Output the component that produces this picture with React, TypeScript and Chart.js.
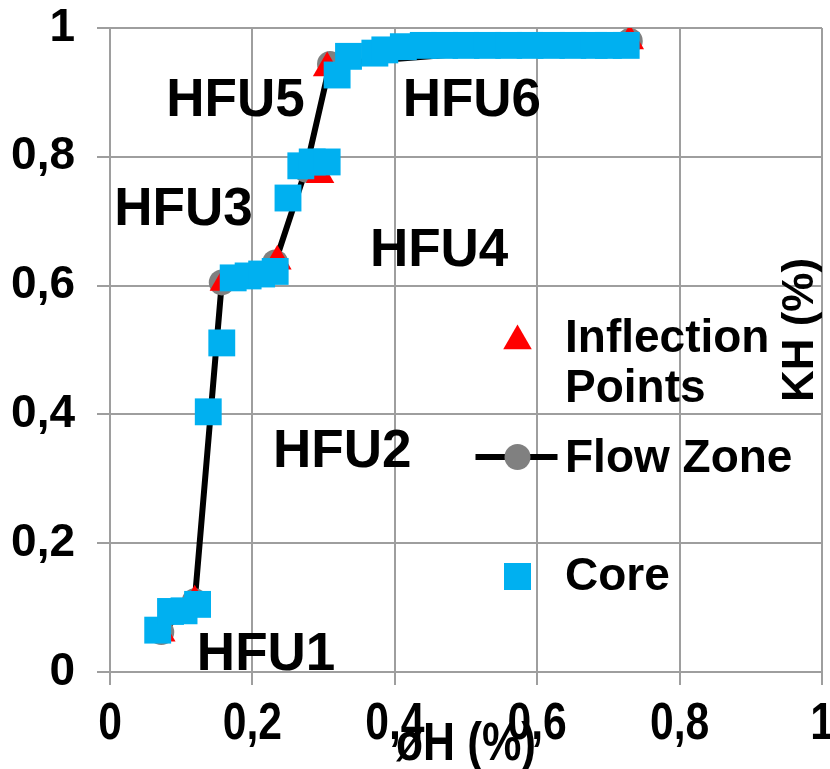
import React, { useEffect, useRef } from 'react';
import { Chart, registerables } from 'chart.js';

Chart.register(...registerables);

// ---- data ----
const coreX = [0.067, 0.085, 0.104, 0.123, 0.138, 0.157, 0.173, 0.194, 0.213, 0.232, 0.25, 0.268, 0.284, 0.305, 0.319, 0.335, 0.372, 0.386, 0.412, 0.44, 0.47, 0.5, 0.53, 0.56, 0.59, 0.62, 0.65, 0.68, 0.7, 0.725];
const coreY = [0.065, 0.094, 0.095, 0.105, 0.404, 0.511, 0.612, 0.615, 0.618, 0.622, 0.736, 0.786, 0.792, 0.792, 0.927, 0.956, 0.961, 0.966, 0.971, 0.973, 0.973, 0.973, 0.973, 0.973, 0.973, 0.973, 0.973, 0.973, 0.973, 0.973];

const inflX = [0.072, 0.119, 0.16, 0.235, 0.295, 0.305, 0.73];
const inflY = [0.06, 0.11, 0.605, 0.638, 0.772, 0.938, 0.98];

const flowX = [0.072, 0.119, 0.157, 0.232, 0.275, 0.309, 0.73];
const flowY = [0.062, 0.11, 0.605, 0.636, 0.78, 0.944, 0.98];

const xTickLabels = ['0', '0,2', '0,4', '0,6', '0,8', '1'];
const yTickLabels = ['0', '0,2', '0,4', '0,6', '0,8', '1'];

const hfuLabels = ['HFU1', 'HFU2', 'HFU3', 'HFU4', 'HFU5', 'HFU6'];
const hfuX = [0.122, 0.229, 0.006, 0.365, 0.079, 0.411];
const hfuY = [0.003, 0.318, 0.694, 0.63, 0.863, 0.863];

const legendNames = [['Inflection', 'Points'], ['Flow Zone'], ['Core']];
const xTitle = 'øH (%)';
const yTitle = 'KH (%)';

const CORE_COLOR = '#00B0F0';
const INFL_COLOR = '#FF0000';
const FLOW_POINT = '#808080';
const GRID = '#9e9e9e';
const BOLD = '"Liberation Sans", Arial, sans-serif';
const NARROW_SCALE = 0.82;

const toPts = (xs: number[], ys: number[]) => xs.map((x, i) => ({ x, y: ys[i] }));

const overlayPlugin = {
  id: 'overlay',
  afterDraw(chart: any) {
    const { ctx, chartArea, scales } = chart;
    const xs = scales.x;
    ctx.save();
    ctx.fillStyle = '#000';

    // x tick labels (condensed face) placed on the library's ticks
    ctx.font = `bold 52px ${BOLD}`;
    ctx.textAlign = 'center';
    ctx.textBaseline = 'alphabetic';
    xs.ticks.forEach((t: any, i: number) => {
      const px = xs.getPixelForValue(t.value);
      ctx.save();
      ctx.translate(px, xs.top + 67);
      ctx.scale(NARROW_SCALE, 1);
      ctx.fillText(xTickLabels[i], 0, 0);
      ctx.restore();
    });
    // x title
    ctx.font = `bold 54px ${BOLD}`;
    ctx.save();
    ctx.translate((chartArea.left + chartArea.right) / 2, xs.top + 88);
    ctx.scale(NARROW_SCALE, 1);
    ctx.fillText(xTitle, 0, 0);
    ctx.restore();

    // HFU labels
    ctx.font = `bold 53px ${BOLD}`;
    ctx.textAlign = 'left';
    hfuLabels.forEach((t, i) => {
      ctx.fillText(t, xs.getPixelForValue(hfuX[i]), scales.y.getPixelForValue(hfuY[i]));
    });

    // legend
    const mx = chartArea.right - 304.5;
    const tx = chartArea.right - 257;
    const top = chartArea.top;
    ctx.font = `bold 46px ${BOLD}`;
    ctx.fillStyle = INFL_COLOR;
    const r = 16.5;
    const cy1 = top + 313;
    ctx.beginPath();
    ctx.moveTo(mx, cy1 - r);
    ctx.lineTo(mx + r * Math.sin((2 * Math.PI) / 3), cy1 - r * Math.cos((2 * Math.PI) / 3));
    ctx.lineTo(mx + r * Math.sin((4 * Math.PI) / 3), cy1 - r * Math.cos((4 * Math.PI) / 3));
    ctx.closePath();
    ctx.fill();
    ctx.fillStyle = '#000';
    ctx.fillText(legendNames[0][0], tx, top + 324);
    ctx.fillText(legendNames[0][1], tx, top + 374);
    const cy2 = top + 429;
    ctx.strokeStyle = '#000';
    ctx.lineWidth = 6;
    ctx.beginPath();
    ctx.moveTo(mx - 42, cy2);
    ctx.lineTo(mx + 40, cy2);
    ctx.stroke();
    ctx.fillStyle = FLOW_POINT;
    ctx.beginPath();
    ctx.arc(mx, cy2, 13, 0, Math.PI * 2);
    ctx.fill();
    ctx.fillStyle = '#000';
    ctx.fillText(legendNames[1][0], tx, top + 444);
    const cy3 = top + 548.5;
    ctx.fillStyle = CORE_COLOR;
    ctx.fillRect(mx - 13.5, cy3 - 13.5, 27, 27);
    ctx.fillStyle = '#000';
    ctx.fillText(legendNames[2][0], tx, top + 562);

    // y-axis title, rotated, inside the plot on the right
    ctx.font = `bold 44px ${BOLD}`;
    ctx.translate(chartArea.right - 21, top + 302);
    ctx.rotate(-Math.PI / 2);
    ctx.textAlign = 'center';
    ctx.textBaseline = 'middle';
    ctx.fillText(yTitle, 0, 0);
    ctx.restore();
  },
};

export default function App() {
  const ref = useRef<HTMLCanvasElement | null>(null);

  useEffect(() => {
    if (!ref.current) return;
    const chart = new Chart(ref.current, {
      type: 'scatter',
      data: {
        datasets: [
          {
            label: 'Core',
            data: toPts(coreX, coreY),
            pointStyle: 'rect',
            pointRadius: 19,
            backgroundColor: CORE_COLOR,
            borderColor: CORE_COLOR,
            borderWidth: 0,
            showLine: false,
          } as any,
          {
            label: 'Inflection Points',
            data: toPts(inflX, inflY),
            pointStyle: 'triangle',
            pointRadius: 16.5,
            backgroundColor: INFL_COLOR,
            borderColor: INFL_COLOR,
            borderWidth: 0,
            showLine: false,
          },
          {
            label: 'Flow Zone',
            data: toPts(flowX, flowY),
            showLine: true,
            borderColor: '#000',
            borderWidth: 6,
            pointStyle: 'circle',
            pointRadius: 13,
            pointBackgroundColor: FLOW_POINT,
            pointBorderColor: FLOW_POINT,
            pointBorderWidth: 0,
            tension: 0,
          },
        ],
      },
      options: {
        responsive: false,
        maintainAspectRatio: false,
        devicePixelRatio: 1,
        animation: false,
        layout: { autoPadding: false, padding: { top: 28, right: 8, left: 0, bottom: 0 } },
        plugins: { legend: { display: false }, tooltip: { enabled: false } },
        scales: {
          x: {
            type: 'linear',
            min: 0,
            max: 1,
            ticks: { stepSize: 0.2, display: false },
            grid: { color: GRID, lineWidth: 2, tickLength: 13, tickColor: GRID },
            border: { color: GRID, width: 2 },
            afterFit: (s: any) => {
              s.height = 97;
              s.paddingLeft = 0;
              s.paddingRight = 0;
            },
          },
          y: {
            type: 'linear',
            min: 0,
            max: 1,
            ticks: {
              stepSize: 0.2,
              padding: 22,
              color: '#000',
              font: { family: BOLD, size: 46, weight: 'bold' },
              callback: (_v: any, i: number) => yTickLabels[i],
            },
            grid: { color: GRID, lineWidth: 2, tickLength: 13, tickColor: GRID },
            border: { color: GRID, width: 2 },
            afterFit: (s: any) => {
              s.width = 110;
              s.paddingTop = 0;
              s.paddingBottom = 0;
            },
          },
        },
      } as any,
      plugins: [overlayPlugin],
    });
    return () => chart.destroy();
  }, []);

  return (
    <div style={{ position: 'fixed', left: 0, top: 0, width: 830, height: 769, background: '#fff' }}>
      <canvas ref={ref} width={830} height={769} style={{ display: 'block' }} />
    </div>
  );
}
